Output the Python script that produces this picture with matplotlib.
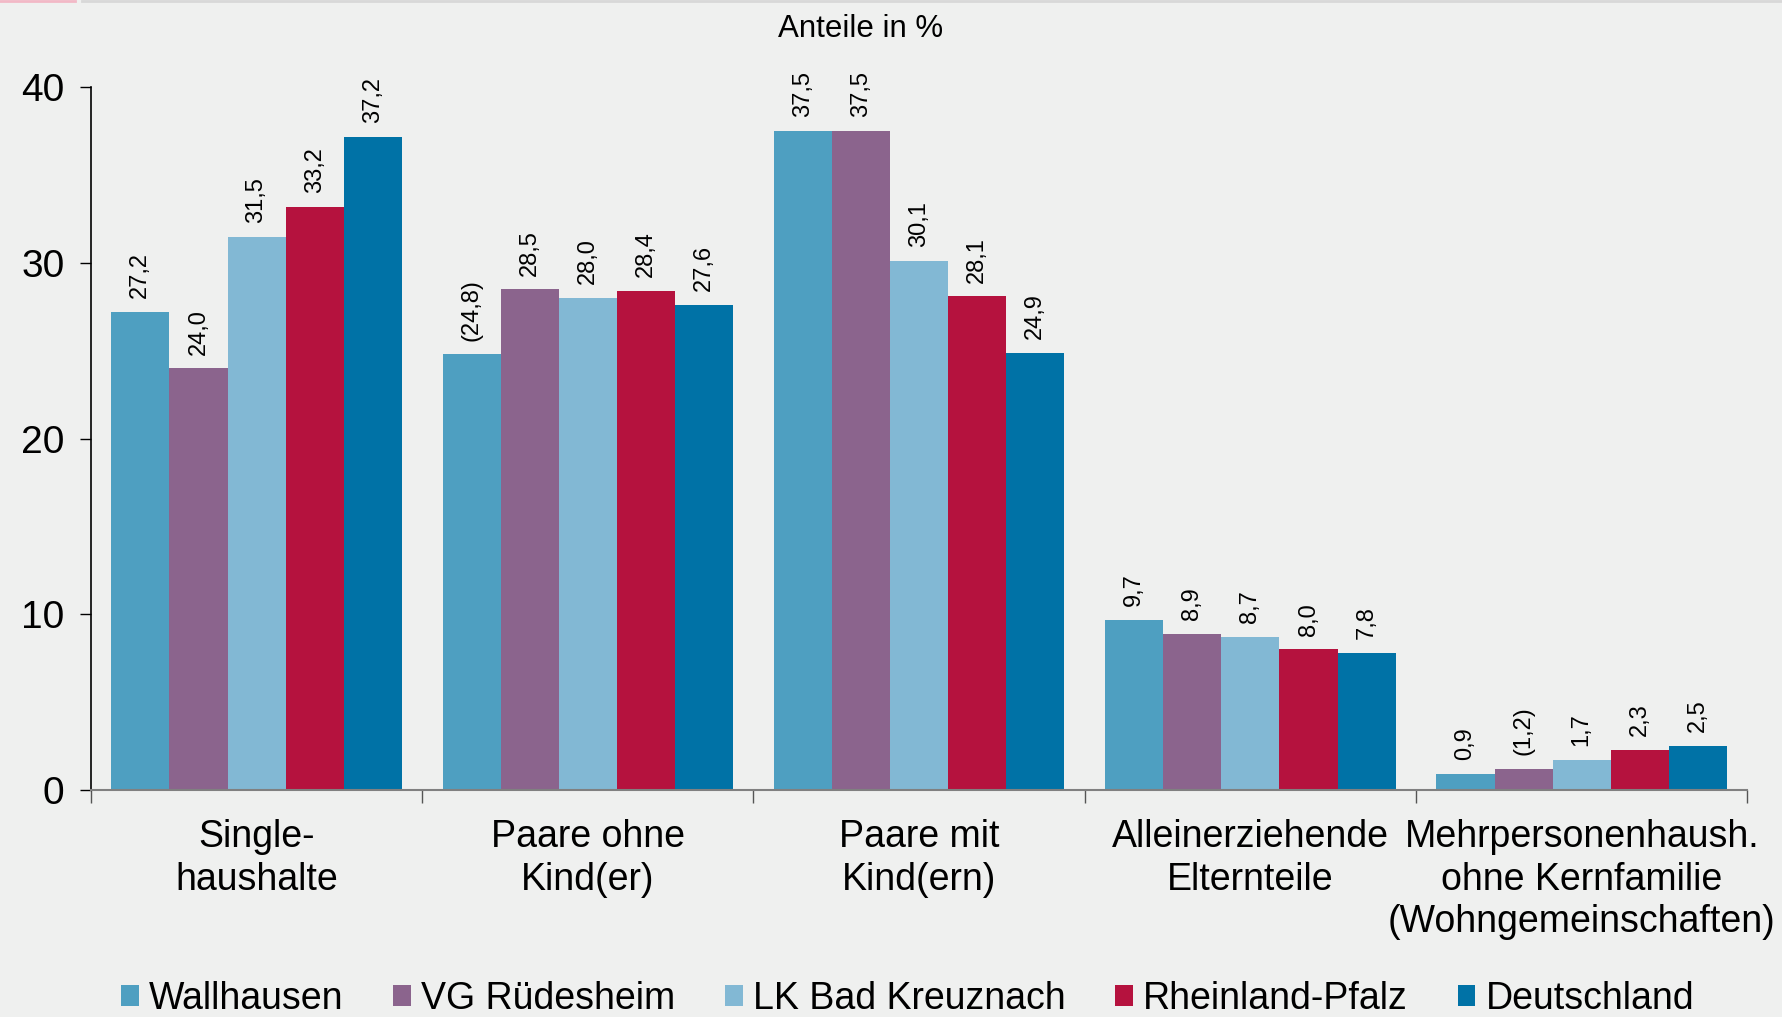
import matplotlib
matplotlib.use("Agg")
import matplotlib.pyplot as plt
from matplotlib.patches import Patch
import numpy as np

plt.rcParams['font.family'] = ['Liberation Sans', 'DejaVu Sans']

categories = ["Single-\nhaushalte", "Paare ohne\nKind(er)", "Paare mit\nKind(ern)",
              "Alleinerziehende\nElternteile",
              "Mehrpersonenhaush.\nohne Kernfamilie\n(Wohngemeinschaften)"]
series_names = ["Wallhausen", "VG Rüdesheim", "LK Bad Kreuznach", "Rheinland-Pfalz", "Deutschland"]
wallhausen = [27.2, 24.8, 37.5, 9.7, 0.9]
vg_ruedesheim = [24.0, 28.5, 37.5, 8.9, 1.2]
lk_bad_kreuznach = [31.5, 28.0, 30.1, 8.7, 1.7]
rheinland_pfalz = [33.2, 28.4, 28.1, 8.0, 2.3]
deutschland = [37.2, 27.6, 24.9, 7.8, 2.5]
label_wallhausen = ["27,2", "(24,8)", "37,5", "9,7", "0,9"]
label_vg = ["24,0", "28,5", "37,5", "8,9", "(1,2)"]
label_lk = ["31,5", "28,0", "30,1", "8,7", "1,7"]
label_rp = ["33,2", "28,4", "28,1", "8,0", "2,3"]
label_de = ["37,2", "27,6", "24,9", "7,8", "2,5"]
yticks = [0, 10, 20, 30, 40]

series = [wallhausen, vg_ruedesheim, lk_bad_kreuznach, rheinland_pfalz, deutschland]
labels = [label_wallhausen, label_vg, label_lk, label_rp, label_de]
colors = ["#4E9FC1", "#8B648D", "#82B8D4", "#B5123E", "#0072A6"]
bg = "#EFF0EF"

fig = plt.figure(figsize=(17.83, 10.17), dpi=100, facecolor=bg)
ax = fig.add_axes([0.051, 0.2232, 0.929, 0.6908])
ax.set_facecolor(bg)

x = np.arange(len(categories))
bw = 0.877 / 5
for i, (vals, labs, c) in enumerate(zip(series, labels, colors)):
    pos = x - 0.877 / 2 + bw * (i + 0.5)
    ax.bar(pos, vals, width=bw, color=c, edgecolor='none', zorder=2)
    for px, v, lab in zip(pos, vals, labs):
        ax.annotate(lab, (px, v), xytext=(0, 10), textcoords='offset points',
                    rotation=90, ha='center', va='bottom', fontsize=17,
                    clip_on=False)

ax.set_xlim(-0.5, len(categories) - 0.5)
ax.set_ylim(0, 40)
ax.set_yticks(yticks)
ax.set_yticklabels([str(t) for t in yticks], fontsize=28)
ax.tick_params(axis='y', direction='out', length=8, width=1, color='black', pad=11)

ax.set_xticks(np.arange(-0.5, len(categories), 1.0))
ax.set_xticklabels([])
ax.set_xticks(x, minor=True)
ax.set_xticklabels(categories, minor=True, fontsize=27, linespacing=1.23)
ax.tick_params(axis='x', which='major', direction='out', length=9, width=1, color='#555555')
ax.tick_params(axis='x', which='minor', length=0, pad=21)

for s in ['top', 'right']:
    ax.spines[s].set_visible(False)
ax.spines['left'].set_color('black')
ax.spines['left'].set_linewidth(1.2)
ax.spines['bottom'].set_color('#808080')
ax.spines['bottom'].set_linewidth(1.5)
ax.spines['bottom'].set_zorder(3)

fig.text(0.4825, 0.971, "Anteile in %", ha='center', va='center', fontsize=22.5)

handles = [Patch(facecolor=c, edgecolor='none') for c in colors]
fig.legend(handles, series_names, loc='center', bbox_to_anchor=(0.509, 0.018), ncol=5,
           frameon=False, fontsize=27, handlelength=0.47, handleheight=0.5,
           handletextpad=0.27, columnspacing=1.33, borderpad=0)

# thin lines at top edge
fig.add_artist(plt.Line2D([0, 0.042], [0.999, 0.999], color='#F2B8C6', lw=2, transform=fig.transFigure))
fig.add_artist(plt.Line2D([0.046, 1.0], [0.999, 0.999], color='#D8D8D8', lw=2, transform=fig.transFigure))

fig.savefig("out.png", dpi=100, facecolor=bg)
